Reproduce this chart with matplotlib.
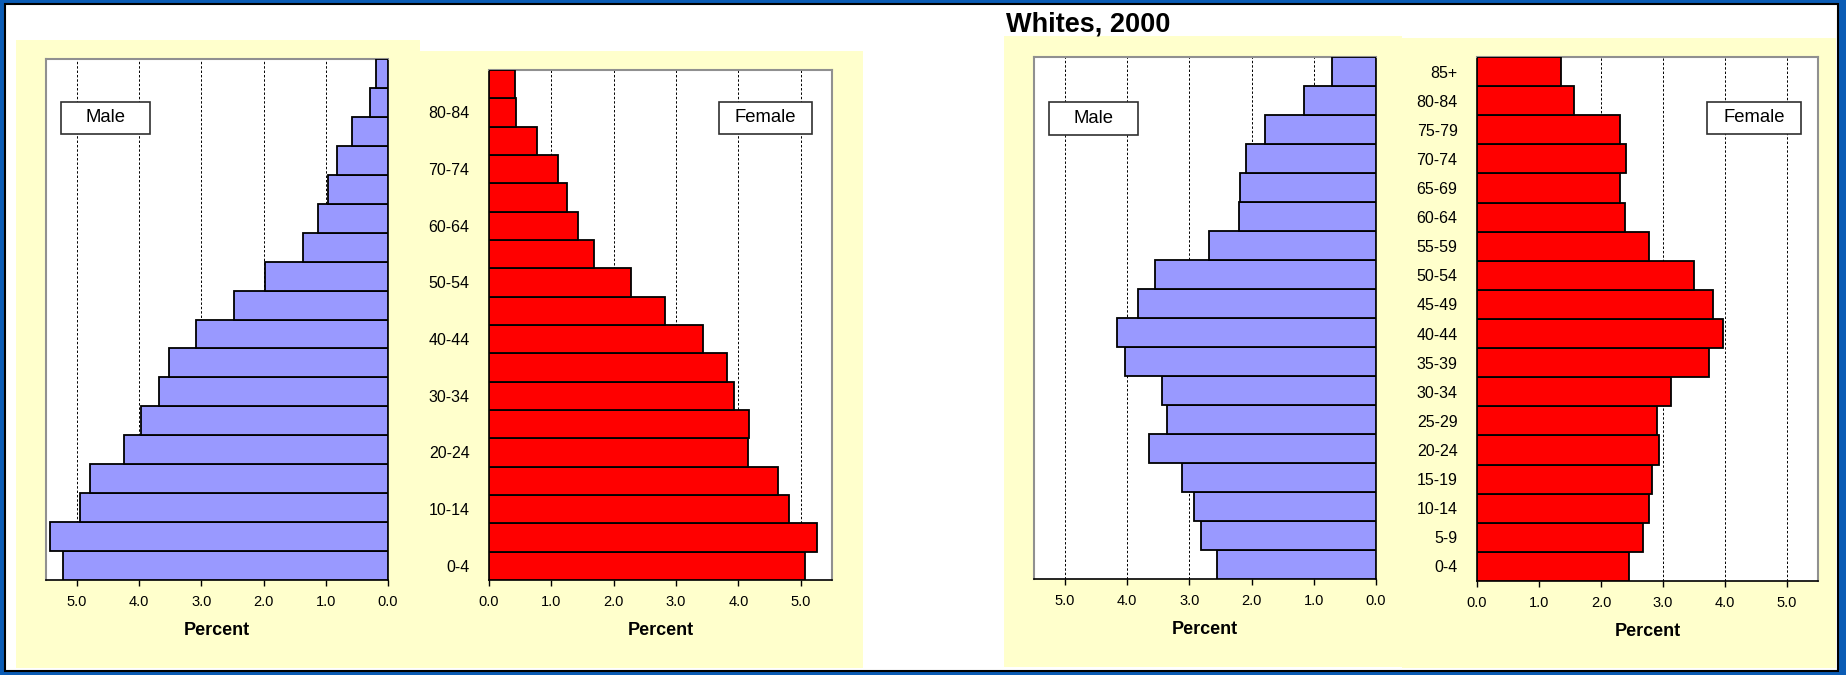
import matplotlib
matplotlib.use("Agg")
import matplotlib.pyplot as plt
from matplotlib.patches import Rectangle

plt.rcParams['font.family'] = ['Liberation Sans', 'DejaVu Sans']

W, H = 1846, 675

ages = ["0-4", "5-9", "10-14", "15-19", "20-24", "25-29", "30-34", "35-39", "40-44",
        "45-49", "50-54", "55-59", "60-64", "65-69", "70-74", "75-79", "80-84", "85+"]

# left pyramid (percent of population)
left_male = [5.22, 5.43, 4.96, 4.80, 4.25, 3.98, 3.68, 3.52, 3.08,
             2.48, 1.98, 1.36, 1.13, 0.97, 0.82, 0.58, 0.29, 0.20]
left_female = [5.06, 5.26, 4.81, 4.63, 4.15, 4.17, 3.93, 3.82, 3.43,
               2.83, 2.28, 1.69, 1.43, 1.25, 1.11, 0.77, 0.43, 0.41]

# Whites, 2000
white_male = [2.56, 2.82, 2.93, 3.12, 3.65, 3.36, 3.44, 4.03, 4.16,
              3.82, 3.55, 2.69, 2.21, 2.18, 2.09, 1.78, 1.16, 0.70]
white_female = [2.45, 2.67, 2.78, 2.82, 2.93, 2.91, 3.13, 3.75, 3.97,
                3.81, 3.50, 2.77, 2.38, 2.31, 2.41, 2.30, 1.56, 1.36]

xticks = [0, 1, 2, 3, 4, 5]
xticklabels = ["0.0", "1.0", "2.0", "3.0", "4.0", "5.0"]

BLUE = "#0b5cb5"
YELLOW = "#ffffcc"
MALE_C = "#9999ff"
FEMALE_C = "#ff0000"


def frac(x0, y0, x1, y1):
    # pixel box (top-left origin) -> figure fraction rect
    return [x0 / W, 1 - y1 / H, (x1 - x0) / W, (y1 - y0) / H]


def px_rect(fig, x0, y0, x1, y1, zorder=-10, **kw):
    r = frac(x0, y0, x1, y1)
    fig.patches.append(Rectangle((r[0], r[1]), r[2], r[3],
                                 transform=fig.transFigure, zorder=zorder, **kw))


fig = plt.figure(figsize=(W / 100, H / 100), dpi=100, facecolor=BLUE)

# slide frame
px_rect(fig, 5, 4, 1838, 671, facecolor="white", edgecolor="black", linewidth=1.5,
        zorder=-20)

# yellow chart panels
px_rect(fig, 16, 40, 420, 668, facecolor=YELLOW, edgecolor="none")
px_rect(fig, 420, 51, 863, 668, facecolor=YELLOW, edgecolor="none")
px_rect(fig, 1004, 36, 1402, 667, facecolor=YELLOW, edgecolor="none")
px_rect(fig, 1402, 38, 1836, 668, facecolor=YELLOW, edgecolor="none")


def pyramid(box, values, color, male, labels_every):
    ax = fig.add_axes(frac(*box))
    ax.set_facecolor("white")
    y = range(len(ages))
    ax.barh(y, values, height=1.0, color=color, edgecolor="black",
            linewidth=1.3, zorder=3)
    ax.set_ylim(-0.5, len(ages) - 0.5)
    ax.set_xticks(xticks)
    ax.set_xticklabels(xticklabels, fontsize=10.5)
    ax.grid(axis="x", color="black", linestyle=(0, (2.5, 2)), linewidth=0.7, zorder=0)
    ax.tick_params(axis="x", direction="out", length=4, width=1, pad=7)
    ax.tick_params(axis="y", length=0, pad=14, labelsize=11.5)
    ax.set_xlabel("Percent", fontsize=13, fontweight="bold", labelpad=9)
    for s in ax.spines.values():
        s.set_color("#909090")
        s.set_linewidth(1.5)
    ax.spines["bottom"].set_color("black")
    ax.spines["bottom"].set_linewidth(1.2)
    if male:
        ax.set_xlim(5.5, 0)
        ax.set_yticks([])
        ax.spines["right"].set_color("black")
        ax.spines["right"].set_linewidth(1.2)
    else:
        ax.set_xlim(0, 5.5)
        ticks = [i for i in y if i % labels_every == 0]
        ax.set_yticks(ticks)
        ax.set_yticklabels([ages[i] for i in ticks])
        ax.spines["left"].set_color("black")
        ax.spines["left"].set_linewidth(1.2)
    return ax


pyramid((46, 59, 388, 580), left_male, MALE_C, True, 1)
pyramid((489, 70, 832, 580), left_female, FEMALE_C, False, 2)
pyramid((1034, 57, 1376, 579), white_male, MALE_C, True, 1)
pyramid((1477, 57, 1818, 581), white_female, FEMALE_C, False, 1)


def label_box(x0, y0, x1, y1, text):
    px_rect(fig, x0, y0, x1, y1, zorder=5, facecolor="white", edgecolor="#303030",
            linewidth=1.2)
    fig.text((x0 + x1) / 2 / W, 1 - (y0 + y1) / 2 / H, text, fontsize=13.3,
             ha="center", va="center", zorder=6)


label_box(61, 102, 150, 134, "Male")
label_box(719, 102, 812, 134, "Female")
label_box(1049, 102, 1138, 135, "Male")
label_box(1707, 102, 1801, 134, "Female")

fig.text(1088 / W, 1 - 24 / H, "Whites, 2000", fontsize=19.5, fontweight="bold",
         ha="center", va="center")

fig.savefig("out.png", dpi=100, facecolor=fig.get_facecolor())
